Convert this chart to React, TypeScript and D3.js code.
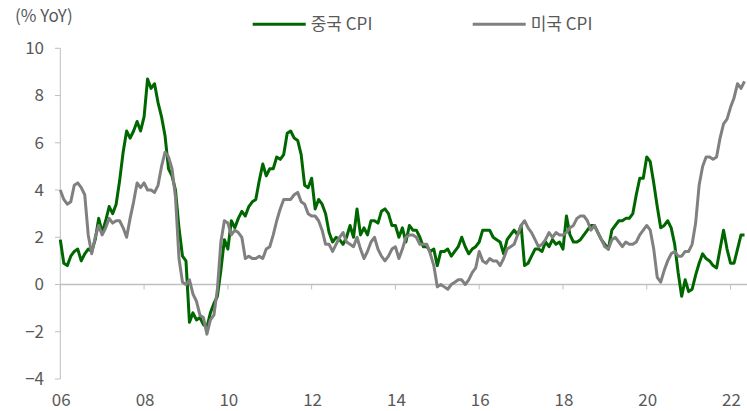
import React from "react";
import * as d3 from "d3";

const startYear = 2006;
const tickYears = [2006, 2008, 2010, 2012, 2014, 2016, 2018, 2020, 2022];
const yTicks = [-4, -2, 0, 2, 4, 6, 8, 10];

// Monthly YoY CPI, Jan 2006 – May 2022
const chinaCPI = [
  1.9, 0.9, 0.8, 1.2, 1.4, 1.5, 1.0, 1.3, 1.5, 1.4, 1.9, 2.8,
  2.2, 2.7, 3.3, 3.0, 3.4, 4.4, 5.6, 6.5, 6.2, 6.5, 6.9, 6.5,
  7.1, 8.7, 8.3, 8.5, 7.7, 7.1, 6.3, 4.9, 4.6, 4.0, 2.4, 1.2,
  1.0, -1.6, -1.2, -1.5, -1.4, -1.7, -1.8, -1.2, -0.8, -0.5, 0.6, 1.9,
  1.5, 2.7, 2.4, 2.8, 3.1, 2.9, 3.3, 3.5, 3.6, 4.4, 5.1, 4.6,
  4.9, 4.9, 5.4, 5.3, 5.5, 6.4, 6.5, 6.2, 6.1, 5.5, 4.2, 4.1,
  4.5, 3.2, 3.6, 3.4, 3.0, 2.2, 1.8, 2.0, 1.9, 1.7, 2.0, 2.5,
  2.0, 3.2, 2.1, 2.4, 2.1, 2.7, 2.7, 2.6, 3.1, 3.2, 3.0, 2.5,
  2.5, 2.0, 2.4, 1.8, 2.5, 2.3, 2.3, 2.0, 1.6, 1.6, 1.4, 1.5,
  0.8, 1.4, 1.4, 1.5, 1.2, 1.4, 1.6, 2.0, 1.6, 1.3, 1.5, 1.6,
  1.8, 2.3, 2.3, 2.3, 2.0, 1.9, 1.8, 1.3, 1.9, 2.1, 2.3, 2.1,
  2.5, 0.8, 0.9, 1.2, 1.5, 1.5, 1.4, 1.8, 1.6, 1.9, 1.7, 1.8,
  1.5, 2.9, 2.1, 1.8, 1.8, 1.9, 2.1, 2.3, 2.5, 2.5, 2.2, 1.9,
  1.7, 1.5, 2.3, 2.5, 2.7, 2.7, 2.8, 2.8, 3.0, 3.8, 4.5, 4.5,
  5.4, 5.2, 4.3, 3.3, 2.4, 2.5, 2.7, 2.4, 1.7, 0.5, -0.5, 0.2,
  -0.3, -0.2, 0.4, 0.9, 1.3, 1.1, 1.0, 0.8, 0.7, 1.5, 2.3, 1.5,
  0.9, 0.9, 1.5, 2.1, 2.1,
];

const usCPI = [
  4.0, 3.6, 3.4, 3.5, 4.2, 4.3, 4.1, 3.8, 2.1, 1.3, 2.0, 2.5,
  2.1, 2.4, 2.8, 2.6, 2.7, 2.7, 2.4, 2.0, 2.8, 3.5, 4.3, 4.1,
  4.3, 4.0, 4.0, 3.9, 4.2, 5.0, 5.6, 5.4, 4.9, 3.7, 1.1, 0.1,
  0.0, 0.2, -0.4, -0.7, -1.3, -1.4, -2.1, -1.5, -1.3, -0.2, 1.8, 2.7,
  2.6, 2.1, 2.3, 2.2, 2.0, 1.1, 1.2, 1.1, 1.1, 1.2, 1.1, 1.5,
  1.6, 2.1, 2.7, 3.2, 3.6, 3.6, 3.6, 3.8, 3.9, 3.5, 3.4, 3.0,
  2.9, 2.9, 2.7, 2.3, 1.7, 1.7, 1.4, 1.7, 2.0, 2.2, 1.8, 1.7,
  1.6, 2.0, 1.5, 1.1, 1.4, 1.8, 2.0, 1.5, 1.2, 1.0, 1.2, 1.5,
  1.6, 1.1, 1.5, 2.0, 2.1, 2.1, 2.0, 1.7, 1.7, 1.7, 1.3, 0.8,
  -0.1, 0.0, -0.1, -0.2, 0.0, 0.1, 0.2, 0.2, 0.0, 0.2, 0.5, 0.7,
  1.4, 1.0, 0.9, 1.1, 1.0, 1.0, 0.8, 1.1, 1.5, 1.6, 1.7, 2.1,
  2.5, 2.7, 2.4, 2.2, 1.9, 1.6, 1.7, 1.9, 2.2, 2.0, 2.2, 2.1,
  2.1, 2.2, 2.4, 2.5, 2.8, 2.9, 2.9, 2.7, 2.3, 2.5, 2.2, 1.9,
  1.6, 1.5, 1.9, 2.0, 1.8, 1.6, 1.8, 1.7, 1.7, 1.8, 2.1, 2.3,
  2.5, 2.3, 1.5, 0.3, 0.1, 0.6, 1.0, 1.3, 1.4, 1.2, 1.2, 1.4,
  1.4, 1.7, 2.6, 4.2, 5.0, 5.4, 5.4, 5.3, 5.4, 6.2, 6.8, 7.0,
  7.5, 7.9, 8.5, 8.3, 8.6,
];

const seriesNames = ["중국 CPI", "미국 CPI"];
const seriesColors = ["#006600", "#808080"];

export default function App() {
  const W = 747, H = 411;
  const x = d3.scaleLinear().domain([0, 196]).range([60.3, 744.5]);
  const y = d3.scaleLinear().domain([-4, 10]).range([379, 48.3]);
  const line = d3
    .line<number>()
    .x((_, i) => x(i))
    .y((d) => y(d));
  const font = "'Noto Sans CJK KR', 'Noto Sans', sans-serif";
  const textColor = "#595959";
  const axisColor = "#bfbfbf";
  const series = [chinaCPI, usCPI];
  const legendX = [252.7, 472.7];

  return (
    <svg
      width={W}
      height={H}
      style={{ position: "absolute", left: 0, top: 0, background: "#fff" }}
      fontFamily={font}
    >
      <text x={15} y={22} fontSize={17} fill={textColor}>(% YoY)</text>
      {seriesNames.map((n, i) => (
        <g key={n}>
          <line
            x1={legendX[i]}
            x2={legendX[i] + 53}
            y1={24.3}
            y2={24.3}
            stroke={seriesColors[i]}
            strokeWidth={3}
          />
          <text x={legendX[i] + 58} y={30} fontSize={17} fill={textColor}>{n}</text>
        </g>
      ))}
      <line x1={60.3} x2={60.3} y1={y(10)} y2={y(-4)} stroke={axisColor} strokeWidth={1} />
      {yTicks.map((t) => (
        <g key={t}>
          <line x1={55} x2={60.3} y1={y(t)} y2={y(t)} stroke={axisColor} strokeWidth={1} />
          <text
            x={44}
            y={y(t)}
            dy="0.35em"
            textAnchor="end"
            fontSize={17}
            fill={textColor}
          >
            {t < 0 ? "\u2212" + Math.abs(t) : t}
          </text>
        </g>
      ))}
      <line x1={60.3} x2={W} y1={y(0)} y2={y(0)} stroke={axisColor} strokeWidth={1.5} />
      {tickYears.map((yr) => {
        const xi = x((yr - startYear) * 12);
        return (
          <g key={yr}>
            <line x1={xi} x2={xi} y1={y(0)} y2={y(0) + 5} stroke={axisColor} strokeWidth={1} />
            <text x={xi + 1} y={406} textAnchor="middle" fontSize={17} fill={textColor}>
              {String(yr % 100).padStart(2, "0")}
            </text>
          </g>
        );
      })}
      {[0, 1].map((i) => (
        <path
          key={i}
          d={line(series[i]) || ""}
          fill="none"
          stroke={seriesColors[i]}
          strokeWidth={3}
          strokeLinejoin="round"
        />
      ))}
    </svg>
  );
}
